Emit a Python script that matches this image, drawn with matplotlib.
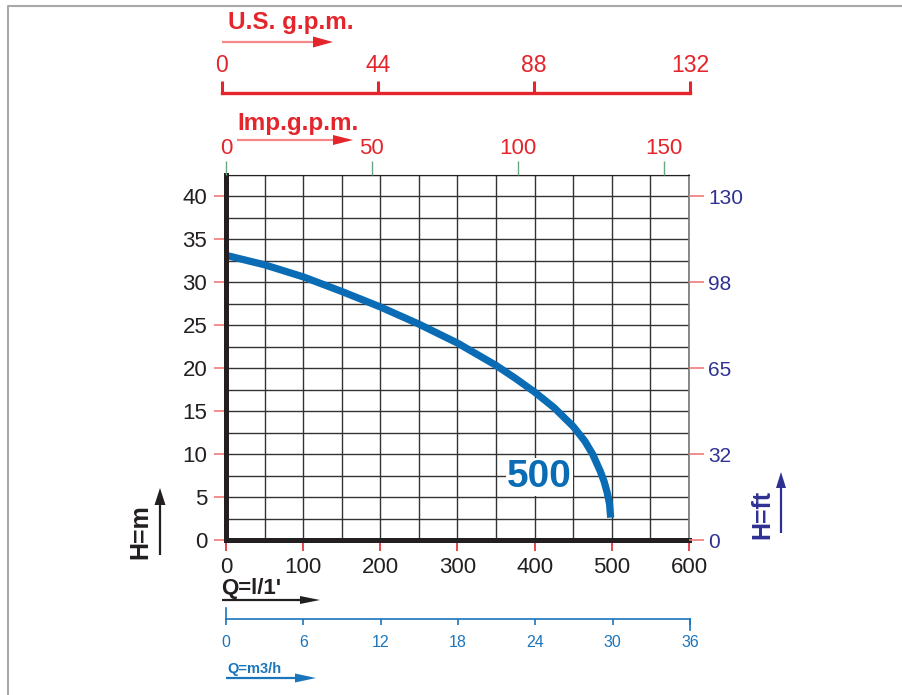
import numpy as np
import matplotlib
matplotlib.use("Agg")
from matplotlib import pyplot as plt
from matplotlib import transforms
from matplotlib.patches import Polygon

plt.rcParams["font.family"] = ["Liberation Sans", "DejaVu Sans"]

# --- data ---
q_lmin = [0, 50, 100, 150, 200, 250, 300, 350, 375, 400, 425, 450, 465, 475,
          485, 490, 494, 497, 498.5]
h_m = [33.1, 32.0, 30.6, 28.9, 27.1, 25.1, 22.9, 20.3, 18.8, 17.2, 15.4, 13.2, 11.5, 10.0,
       8.0, 6.8, 5.5, 4.2, 2.6]
curve_label = "500"

q_ticks = [0, 100, 200, 300, 400, 500, 600]
h_ticks = [0, 5, 10, 15, 20, 25, 30, 35, 40]
ft_pos = [0, 10, 20, 30, 40]
ft_labels = ["0", "32", "65", "98", "130"]
imp_ticks = [0, 50, 100, 150]
imp_factor = 3.78          # l/min per scale unit, as drawn
us_ticks = [0, 44, 88, 132]
m3h_ticks = [0, 6, 12, 18, 24, 30, 36]

# colours
RED = "#e4252b"
PINK = "#f07a7a"
NAVY = "#2e3192"
BLUE = "#0a6cb4"
LBLUE = "#1b75bb"
INK = "#231f20"

W, H = 903, 695
fig = plt.figure(figsize=(W / 100, H / 100), dpi=100, facecolor="white")


def px_axes(x0, y0, x1, y1):
    """axes placed by pixel box (y down)"""
    return fig.add_axes([x0 / W, 1 - y1 / H, (x1 - x0) / W, (y1 - y0) / H])


# overlay in pixel units for arrows, titles and frame
lay = fig.add_axes([0, 0, 1, 1])
lay.set_xlim(0, W)
lay.set_ylim(H, 0)
lay.axis("off")
lay.plot([8, 8, W], [H, 6, 6], color="#a8a8a8", lw=1.5)


def arrow(x0, y0, x1, y1, shaft, head, hl, hw, lw=1.6):
    # shaft + triangular head, pixel coords
    d = np.array([x1 - x0, y1 - y0], float)
    d /= np.hypot(*d)
    n = np.array([-d[1], d[0]])
    base = np.array([x1, y1]) - d * hl
    lay.plot([x0, base[0]], [y0, base[1]], color=shaft, lw=lw, solid_capstyle="butt")
    tri = [[x1, y1], base + n * hw / 2, base - n * hw / 2]
    lay.add_patch(Polygon(tri, closed=True, color=head, lw=0))


arrow(222, 42, 333, 42, "#f2888a", RED, 20, 11)
lay.text(228, 29, "U.S. g.p.m.", color=RED, fontsize=17.5, fontweight="bold", va="baseline")
arrow(237, 140, 353, 140, "#f2888a", RED, 20, 10)
lay.text(237, 130, "Imp.g.p.m.", color=RED, fontsize=17.5, fontweight="bold", va="baseline")
arrow(222, 600, 320, 600, INK, INK, 20, 8)
lay.text(221, 594, "Q=l/1'", color=INK, fontsize=16, fontweight="bold", va="baseline")
arrow(226, 678, 316, 678, LBLUE, LBLUE, 21, 9)
lay.text(227, 673, "Q=m3/h", color=LBLUE, fontsize=10.5, fontweight="bold", va="baseline")
arrow(160, 555, 160, 488, INK, INK, 17, 11)
lay.text(140.5, 532, "H=m", color=INK, fontsize=18, fontweight="bold", rotation=90,
         ha="center", va="center")
arrow(781, 533, 781, 472, NAVY, NAVY, 16, 10)
lay.text(762.5, 514, "H=ft", color=NAVY, fontsize=18, fontweight="bold", rotation=90,
         ha="center", va="center")

# --- main chart ---
ax = px_axes(226, 174.5, 689, 540)
ax.set_facecolor("none")
ax.set_xlim(0, 600)
ax.set_ylim(0, 42.5)
ax.vlines(np.arange(50, 601, 50), 0, 42.5, color="#333333", lw=1.0, zorder=1)
ax.hlines(np.arange(2.5, 42.6, 2.5), 0, 600, color="#333333", lw=1.0, zorder=1)
for s in ["left", "bottom"]:
    ax.spines[s].set_linewidth(3.6)
    ax.spines[s].set_color(INK)
    ax.spines[s].set_zorder(5)
ax.spines["top"].set_linewidth(0.8)
ax.spines["top"].set_color(INK)
ax.spines["right"].set_linewidth(1.2)
ax.spines["right"].set_color("#777777")

ax.set_xticks(q_ticks)
ax.set_xticklabels([str(v) for v in q_ticks])
ax.tick_params(axis="x", colors=RED, labelcolor=INK, length=8, width=1.2,
               pad=4, labelsize=16)
ax.set_yticks(h_ticks)
ax.set_yticklabels([str(v) for v in h_ticks])
ax.tick_params(axis="y", colors=PINK, labelcolor=INK, length=9, width=1.2,
               pad=4.5, labelsize=16)

ax.plot(q_lmin, h_m, color=BLUE, lw=5.2, solid_capstyle="butt",
        solid_joinstyle="round", zorder=4)
ax.text(406, 7.3, curve_label, color=BLUE, fontsize=28, fontweight="bold",
        ha="center", va="center", zorder=6,
        bbox=dict(facecolor="white", edgecolor="none", pad=0.5))

# feet on the right
ax2 = ax.twinx()
ax2.set_ylim(0, 42.5)
ax2.set_yticks(ft_pos)
ax2.set_yticklabels(ft_labels)
ax2.tick_params(axis="y", colors=PINK, labelcolor=NAVY, length=11, width=1.2,
                pad=3, labelsize=15)
for s in ax2.spines.values():
    s.set_visible(False)

# imperial gallons on top
ax3 = ax.twiny()
ax3.set_xlim(0, 600)
ax3.set_xticks([v * imp_factor for v in imp_ticks])
ax3.set_xticklabels([str(v) for v in imp_ticks])
ax3.tick_params(axis="x", colors="#6aa585", labelcolor=RED, length=10.4, width=1.0,
                pad=1.0, labelsize=16)
for s in ax3.spines.values():
    s.set_visible(False)

# US gallons bracket
axu = px_axes(222, 60, 690, 93)
axu.set_xlim(us_ticks[0], us_ticks[-1])
axu.patch.set_visible(False)
for k, s in axu.spines.items():
    s.set_visible(k == "bottom")
axu.spines["bottom"].set_color(RED)
axu.spines["bottom"].set_linewidth(2.4)
axu.set_yticks([])
axu.set_xticks(us_ticks)
axu.set_xticklabels([])
axu.tick_params(axis="x", direction="in", colors=RED, length=8.6, width=2.2)
ulab = transforms.blended_transform_factory(axu.transData, lay.transData)
for v in us_ticks:
    axu.text(v, 65.5, str(v), color=RED, fontsize=16.5, ha="center", va="center",
             transform=ulab, clip_on=False)

# m3/h scale
axm = px_axes(226, 600, 690, 619)
axm.set_xlim(m3h_ticks[0], m3h_ticks[-1])
axm.patch.set_visible(False)
for k, s in axm.spines.items():
    s.set_visible(k == "bottom")
axm.spines["bottom"].set_color(LBLUE)
axm.spines["bottom"].set_linewidth(1.2)
axm.set_yticks([])
axm.set_xticks(m3h_ticks)
axm.set_xticklabels([str(v) for v in m3h_ticks])
axm.tick_params(axis="x", colors=LBLUE, length=4.5, width=1.2, pad=7,
                labelsize=11.5)
mix = transforms.blended_transform_factory(axm.transData, lay.transData)
axm.plot([m3h_ticks[0]] * 2, [608, 619], color=LBLUE, lw=1.2, transform=mix, clip_on=False)
axm.plot([m3h_ticks[-1]] * 2, [619, 630], color=LBLUE, lw=1.2, transform=mix, clip_on=False)

fig.savefig("out.png", dpi=100, facecolor="white")
